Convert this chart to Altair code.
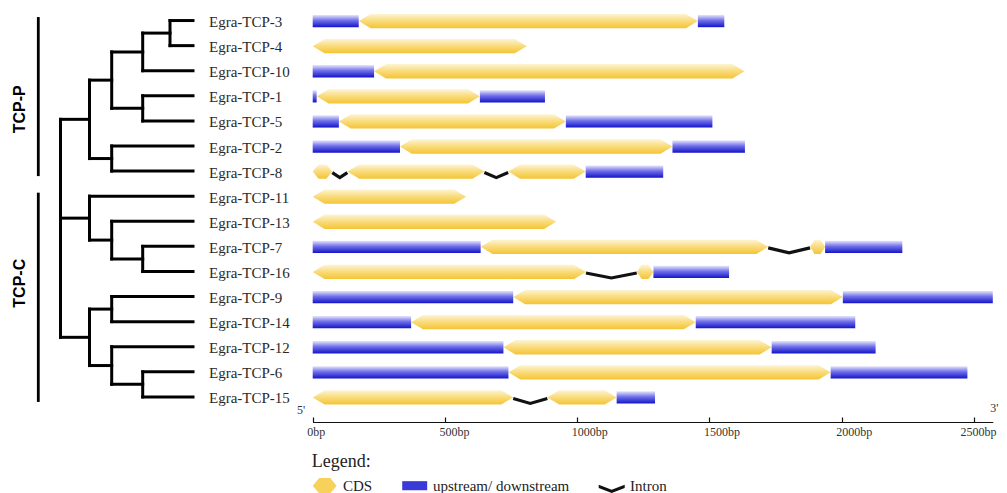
import altair as alt
import pandas as pd

# ---------------- data ----------------
genes = ["Egra-TCP-3", "Egra-TCP-4", "Egra-TCP-10", "Egra-TCP-1", "Egra-TCP-5",
         "Egra-TCP-2", "Egra-TCP-8", "Egra-TCP-11", "Egra-TCP-13", "Egra-TCP-7",
         "Egra-TCP-16", "Egra-TCP-9", "Egra-TCP-14", "Egra-TCP-12", "Egra-TCP-6",
         "Egra-TCP-15"]

# gene structure segments (U = upstream/downstream, C = CDS, I = intron), bp
seg_gene = ["Egra-TCP-3"] * 3 + ["Egra-TCP-4"] + ["Egra-TCP-10"] * 2 + ["Egra-TCP-1"] * 3 + \
           ["Egra-TCP-5"] * 3 + ["Egra-TCP-2"] * 3 + ["Egra-TCP-8"] * 6 + ["Egra-TCP-11"] + \
           ["Egra-TCP-13"] + ["Egra-TCP-7"] * 5 + ["Egra-TCP-16"] * 4 + ["Egra-TCP-9"] * 3 + \
           ["Egra-TCP-14"] * 3 + ["Egra-TCP-12"] * 3 + ["Egra-TCP-6"] * 3 + ["Egra-TCP-15"] * 4
seg_type = ["U", "C", "U",
            "C",
            "U", "C",
            "U", "C", "U",
            "U", "C", "U",
            "U", "C", "U",
            "C", "I", "C", "I", "C", "U",
            "C",
            "C",
            "U", "C", "I", "C", "U",
            "C", "I", "C", "U",
            "U", "C", "U",
            "U", "C", "U",
            "U", "C", "U",
            "U", "C", "U",
            "C", "I", "C", "U"]
seg_start = [0, 174, 1456,
             0,
             0, 232,
             0, 15, 632,
             0, 99, 957,
             0, 330, 1360,
             0, 74, 131, 649, 739, 1032,
             0,
             0,
             0, 635, 1722, 1880, 1937,
             0, 1033, 1225, 1288,
             0, 758, 2004,
             0, 372, 1448,
             0, 721, 1735,
             0, 740, 1958,
             0, 758, 887, 1149]
seg_end = [174, 1456, 1556,
           809,
           232, 1632,
           15, 632, 878,
           99, 957, 1511,
           330, 1360, 1634,
           74, 131, 649, 739, 1032, 1325,
           580,
           920,
           635, 1722, 1880, 1937, 2229,
           1033, 1225, 1288, 1574,
           758, 2004, 2571,
           372, 1448, 2051,
           721, 1735, 2128,
           740, 1958, 2475,
           758, 887, 1149, 1294]

# phylogeny (nested clades)
tree = [
    [[[["Egra-TCP-3", "Egra-TCP-4"], "Egra-TCP-10"], ["Egra-TCP-1", "Egra-TCP-5"]],
     ["Egra-TCP-2", "Egra-TCP-8"]],
    ["Egra-TCP-11", ["Egra-TCP-13", ["Egra-TCP-7", "Egra-TCP-16"]]],
    [["Egra-TCP-9", "Egra-TCP-14"], ["Egra-TCP-12", ["Egra-TCP-6", "Egra-TCP-15"]]],
]
clade_names = ["TCP-P", "TCP-C"]
clade_first = ["Egra-TCP-3", "Egra-TCP-11"]
clade_last = ["Egra-TCP-8", "Egra-TCP-15"]

axis_values = [0, 500, 1000, 1500, 2000, 2500]
axis_max = 2571
end_labels = ["5'", "3'"]

legend_items = ["CDS", "upstream/ downstream", "Intron"]

# ---------------- derived tables ----------------
row_of = {g: i for i, g in enumerate(genes)}
LEAF = 5

tree_rows = []


def layout(node, level):
    if isinstance(node, str):
        return row_of[node]
    ys = [layout(c, level + 1) for c in node]
    tree_rows.append({"x": level, "x2": level, "y": ys[0], "y2": ys[-1]})
    for c, yc in zip(node, ys):
        lvl_c = LEAF if isinstance(c, str) else level + 1
        tree_rows.append({"x": level, "x2": lvl_c, "y": yc, "y2": yc})
    return (ys[0] + ys[-1]) / 2


layout(tree, 0)
tree_df = pd.DataFrame(tree_rows)
leaf_df = pd.DataFrame({"gene": genes, "row": list(range(len(genes))), "lvl": [LEAF] * len(genes)})

label_shift = [0.54, -0.53]
clade_df = pd.DataFrame({
    "name": clade_names,
    "y0": [row_of[g] - 0.14 for g in clade_first],
    "y1": [row_of[g] + 0.2 for g in clade_last],
    "ly": [(row_of[a] + row_of[b]) / 2 + s for a, b, s in zip(clade_first, clade_last, label_shift)],
})

CDS_H = 0.285
UTR_H = 0.245
TIP = 45
cds_rows, utr_rows, intron_rows = [], [], []
for k, (g, t, s, e) in enumerate(zip(seg_gene, seg_type, seg_start, seg_end)):
    r = row_of[g] + 0.02
    if t == "C":
        tip = min(TIP, 0.3 * (e - s))
        for xv, h in [(s, 0), (s + tip, CDS_H), (e - tip, CDS_H), (e, 0)]:
            cds_rows.append({"id": k, "x": xv, "y": r - h, "y2": r + h})
    elif t == "U":
        utr_rows.append({"id": k, "s": s, "e": e, "y0": r - UTR_H, "y1": r + UTR_H})
    else:
        for xv, dy in [(s, 0.04), ((s + e) / 2, 0.24), (e, 0.04)]:
            intron_rows.append({"id": k, "x": xv, "y": r + dy})
cds_df = pd.DataFrame(cds_rows)
utr_df = pd.DataFrame(utr_rows)
intron_df = pd.DataFrame(intron_rows)

ends_df = pd.DataFrame({"lab": end_labels, "bp": [0, axis_max]})
legend_df = pd.DataFrame({"type": legend_items, "x": [-9999] * 3, "y": [0] * 3})

# ---------------- layout / style ----------------
W, H = 991, 414
row_scale = alt.Scale(domain=[-0.5, 16.0], range=[0, H], nice=False, zero=False)
tree_x = alt.Scale(domain=[0, 1, 2, 3, 4, 5], range=[52.5, 81.5, 103.7, 134.7, 162, 185],
                   nice=False, zero=False)
gene_x = alt.Scale(domain=[0, axis_max], range=[304.7, 984.8], nice=False, zero=False)

x_axis = alt.Axis(orient="top", offset=-H, values=axis_values, labelExpr="datum.value + 'bp'",
                  tickSize=5, tickWidth=1.2, tickColor="#111", domainColor="#111", domainWidth=1.2,
                  labelFont="Liberation Serif", labelFontSize=12, labelColor="#333",
                  labelAlign="left",
                  labelOffset={"condition": {"test": "datum.value === 2500", "value": -14},
                               "value": -6},
                  labelBaseline="top", labelPadding=-9,
                  labelFlush=False, labelOverlap=False, grid=False, title=None)

yellow = alt.Gradient(gradient="linear", x1=0, x2=0, y1=0, y2=1,
                      stops=[alt.GradientStop(color="#fdf4d4", offset=0),
                             alt.GradientStop(color="#f9db7a", offset=0.5),
                             alt.GradientStop(color="#f4c434", offset=1)])
blue = alt.Gradient(gradient="linear", x1=0, x2=0, y1=0, y2=1,
                    stops=[alt.GradientStop(color="#e6e6fc", offset=0),
                           alt.GradientStop(color="#7070ea", offset=0.45),
                           alt.GradientStop(color="#1414c8", offset=1)])

legend_colors = ["#f7d15a", "#3a3ad8", "#111111"]
legend_shapes = [
    "M-0.92,0L-0.42,-0.6L0.42,-0.6L0.92,0L0.42,0.6L-0.42,0.6Z",
    "M-0.96,-0.35L0.96,-0.35L0.96,0.35L-0.96,0.35Z",
    "M-1,-0.08L0,0.31L1,-0.08L1,0.17L0,0.56L-1,0.17Z",
]
leg = alt.Legend(title="Legend:", orient="none", legendX=303.7, legendY=444.7,
                 direction="horizontal", columns=3, columnPadding=29, symbolSize=676,
                 symbolStrokeWidth=0, symbolOpacity=1, labelFont="Liberation Serif",
                 labelFontSize=15, labelColor="#222", labelOffset=5.3, labelBaseline="middle",
                 titleFont="Liberation Serif", titleFontSize=18, titleFontWeight="normal",
                 titleColor="#222", titlePadding=2, titleAnchor="start", padding=0)

# ---------------- tree side ----------------
branches = alt.Chart(tree_df).mark_rule(color="#000", strokeWidth=3, strokeCap="square").encode(
    x=alt.X("x:Q", scale=tree_x, axis=None), x2="x2:Q",
    y=alt.Y("y:Q", scale=row_scale, axis=None), y2="y2:Q")
names = alt.Chart(leaf_df).mark_text(align="left", baseline="middle", dx=16, dy=1.5,
                                     font="Liberation Serif", fontSize=15, color="#2a2a2a").encode(
    x=alt.X("lvl:Q", scale=tree_x, axis=None),
    y=alt.Y("row:Q", scale=row_scale, axis=None), text="gene:N")
bars = alt.Chart(clade_df).mark_rule(color="#000", strokeWidth=2.8).encode(
    x=alt.value(30.3), y=alt.Y("y0:Q", scale=row_scale, axis=None), y2="y1:Q")
clabels = alt.Chart(clade_df).mark_text(angle=270, align="center", baseline="middle",
                                        font="Liberation Sans", fontWeight="bold", fontSize=16,
                                        color="#000").encode(
    x=alt.value(12), y=alt.Y("ly:Q", scale=row_scale, axis=None), text="name:N")
tree_layer = alt.layer(branches, names, bars, clabels)

# ---------------- gene side ----------------
utr = alt.Chart(utr_df).mark_rect(fill=blue).encode(
    x=alt.X("s:Q", scale=gene_x, axis=x_axis), x2="e:Q",
    y=alt.Y("y0:Q", scale=row_scale, axis=None), y2="y1:Q")
cds = alt.Chart(cds_df).mark_area(fill=yellow, interpolate="linear").encode(
    x=alt.X("x:Q", scale=gene_x, axis=x_axis),
    y=alt.Y("y:Q", scale=row_scale, axis=None, stack=None), y2="y2:Q",
    detail="id:N")
intron = alt.Chart(intron_df).mark_line(color="#111", strokeWidth=3.2, strokeJoin="miter").encode(
    x=alt.X("x:Q", scale=gene_x, axis=x_axis),
    y=alt.Y("y:Q", scale=row_scale, axis=None), detail="id:N")
five = alt.Chart(ends_df.iloc[[0]]).mark_text(align="right", baseline="middle", dx=-7.5,
                                             font="Liberation Serif", fontSize=12, color="#333").encode(
    x=alt.X("bp:Q", scale=gene_x, axis=x_axis), y=alt.value(402), text="lab:N")
three = alt.Chart(ends_df.iloc[[1]]).mark_text(align="right", baseline="middle", dx=5.5,
                                              font="Liberation Serif", fontSize=12, color="#333").encode(
    x=alt.X("bp:Q", scale=gene_x, axis=x_axis), y=alt.value(400), text="lab:N")
legend_pts = alt.Chart(legend_df).mark_point(filled=True, size=676, clip=True, opacity=1).encode(
    x=alt.X("x:Q", scale=gene_x, axis=x_axis),
    y=alt.Y("y:Q", scale=row_scale, axis=None),
    color=alt.Color("type:N", scale=alt.Scale(domain=legend_items, range=legend_colors), legend=leg),
    shape=alt.Shape("type:N", scale=alt.Scale(domain=legend_items, range=legend_shapes), legend=leg))
gene_layer = alt.layer(utr, cds, intron, five, three, legend_pts)

chart = alt.layer(tree_layer, gene_layer).resolve_scale(x="independent").properties(
    width=W, height=H,
    padding={"left": 0, "top": 0, "right": 0, "bottom": 71},
    autosize=alt.AutoSizeParams(type="none"),
).configure_view(stroke=None)

chart.save("out.html", embed_options={"renderer": "svg", "actions": False})
